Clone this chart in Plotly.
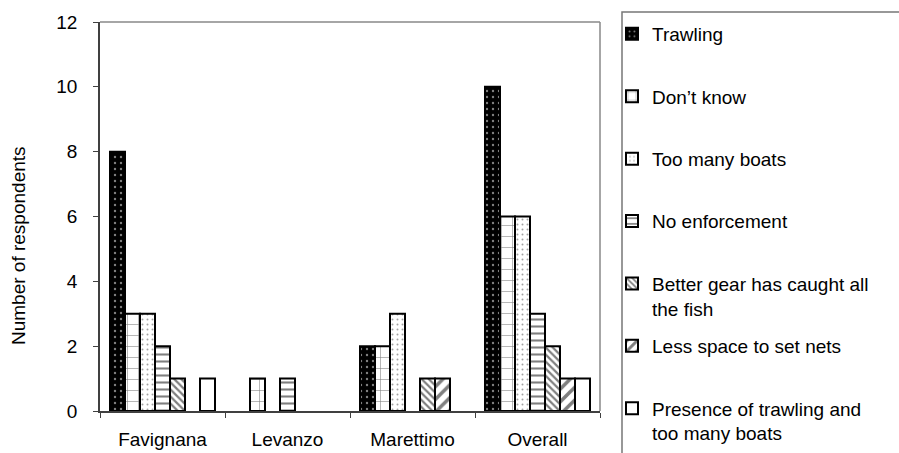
import plotly.graph_objects as go

islands = ["Favignana", "Levanzo", "Marettimo", "Overall"]
reasons = [
    "Trawling",
    "Don’t know",
    "Too many boats",
    "No enforcement",
    "Better gear has caught all<br>the fish",
    "Less space to set nets",
    "Presence of trawling and<br>too many boats",
]
trawling = [8, 0, 2, 10]
dont_know = [3, 1, 2, 6]
too_many_boats = [3, 0, 3, 6]
no_enforcement = [2, 1, 0, 3]
better_gear = [1, 0, 1, 2]
less_space = [0, 0, 1, 1]
presence = [1, 0, 0, 1]
y_ticks = [0, 2, 4, 6, 8, 10, 12]

series = [trawling, dont_know, too_many_boats, no_enforcement, better_gear, less_space, presence]
patterns = [
    dict(shape=".", bgcolor="black", fgcolor="white", size=6, solidity=0.12),
    dict(shape="+", bgcolor="white", fgcolor="black", size=11, solidity=0.1),
    dict(shape=".", bgcolor="white", fgcolor="#444", size=5, solidity=0.12),
    dict(shape="-", bgcolor="white", fgcolor="black", size=7, solidity=0.3),
    dict(shape="\\", bgcolor="white", fgcolor="black", size=5, solidity=0.45),
    dict(shape="/", bgcolor="white", fgcolor="black", size=9, solidity=0.4),
    dict(shape="", bgcolor="white", fgcolor="white"),
]

FONT = "Arial, Liberation Sans, sans-serif"
fig = go.Figure()
for name, vals, pat in zip(reasons, series, patterns):
    label = name if "<br>" in name else name + "<br> "
    fig.add_trace(go.Bar(
        x=islands, y=[v if v else None for v in vals], name=label, legendgroup=name,
        marker=dict(color="white", pattern=pat, line=dict(color="black", width=2)),
    ))

fig.update_layout(
    width=899, height=453,
    margin=dict(l=100, r=299, t=22, b=42),
    paper_bgcolor="white", plot_bgcolor="white",
    barmode="group", bargap=0.16, bargroupgap=0,
    font=dict(family=FONT, size=19, color="black"),
    showlegend=True,
    legend=dict(
        xref="container", yref="container",
        x=612 / 899, y=1 - 15 / 453, xanchor="left", yanchor="top",
        bgcolor="rgba(0,0,0,0)", borderwidth=0,
        font=dict(family=FONT, size=19, color="black"),
        valign="top", tracegroupgap=10, itemwidth=30, maxheight=470,
    ),
    xaxis=dict(
        showline=True, linecolor="#404040", linewidth=1.5,
        ticks="outside", tickson="boundaries", ticklen=5, tickcolor="#404040",
        showgrid=False, ticklabelstandoff=10, automargin=False,
    ),
    yaxis=dict(
        range=[0, 12], tickvals=y_ticks, showline=True, linecolor="#404040", linewidth=1.5,
        ticks="outside", ticklen=5, tickcolor="#404040", showgrid=False, zeroline=False,
        ticklabelstandoff=12, automargin=False,
    ),
    shapes=[
        dict(type="line", xref="paper", yref="paper", x0=0, x1=1, y0=1, y1=1,
             line=dict(color="#888", width=1.5)),
        dict(type="line", xref="paper", yref="paper", x0=1, x1=1, y0=0, y1=1,
             line=dict(color="#888", width=1.5)),
        dict(type="rect", xref="paper", yref="paper",
             x0=(622 - 100) / 500, x1=(920 - 100) / 500,
             y0=(411 - 470) / 389, y1=(411 - 12) / 389,
             line=dict(color="#777", width=1.5), fillcolor="rgba(0,0,0,0)"),
    ],
    annotations=[
        dict(text="Number of respondents", textangle=-90, showarrow=False,
             xref="paper", yref="paper", x=(18 - 100) / 500, y=(411 - 246) / 389,
             xanchor="center", yanchor="middle", font=dict(family=FONT, size=19)),
    ],
)

fig.write_html("out.html", config={"displayModeBar": False},
               post_script="document.body.style.margin='0px';")
